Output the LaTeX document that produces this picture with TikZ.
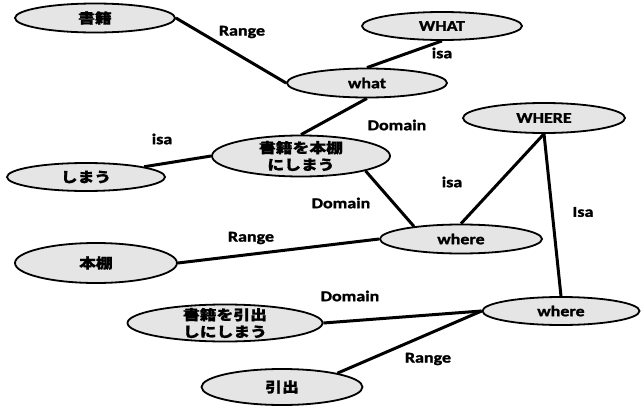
\documentclass[tikz,border=0pt]{standalone}
\usepackage{fontspec}
\setmainfont{Carlito}[FakeStretch=1.2, BoldFeatures={FakeBold=1.5}]
\newfontfamily\jpfont{Noto Sans CJK JP}[FakeStretch=1.2, BoldFeatures={FakeBold=1}]
\usetikzlibrary{shapes.geometric,backgrounds}

\begin{document}
\begin{tikzpicture}[x=1pt, y=-1pt,
    concept/.style={ellipse, draw, line width=1.8pt, fill=gray!20, inner sep=0pt,
        minimum width=160pt, minimum height=29pt, align=center,
        font=\fontsize{15}{17}\selectfont\bfseries},
    jp/.style={font=\fontsize{14}{17}\selectfont\jpfont\bfseries},
    rel/.style={font=\fontsize{15}{17}\selectfont\bfseries},
    link/.style={line width=3pt}]
    \useasboundingbox (0,0) rectangle (641,407);
    \path
        node (shoseki) at (95,18)  [concept, jp] {書籍}
        node (WHAT)    at (442,26) [concept, minimum height=28pt] {WHAT}
        node (what)    at (367,83) [concept] {what}
        node (WHERE)   at (544,118) [concept, minimum width=162pt, minimum height=30pt] {WHERE}
        node (shohon)  at (301,156) [concept, jp, minimum width=178pt, minimum height=41pt, inner ysep=-6pt] {書籍を本棚\\にしまう}
        node (shimau)  at (86,177) [concept, jp, minimum width=158pt, minimum height=28pt] {しまう}
        node (where1)  at (461,239) [concept, minimum width=162pt] {where}
        node (hondana) at (96,263) [concept, jp, minimum width=162pt, minimum height=40pt] {本棚}
        node (where2)  at (561,311) [concept, minimum width=157pt, minimum height=28pt] {where}
        node (shohiki) at (225,323) [concept, jp, minimum width=195pt, minimum height=37pt, inner ysep=-6pt] {書籍を引出\\しにしまう}
        node (hikidashi) at (282,387) [concept, jp, minimum width=161pt, minimum height=36pt] {引出};
    \begin{scope}[on background layer]
        \draw[link] (shoseki.east) -- (what.west);
        \draw[link] (WHAT.south) -- (what.north);
        \draw[link] (what.south) -- (shohon.north);
        \draw[link] (shimau.10) -- (shohon.west);
        \draw[link] (shohon.-13) -- (where1.165);
        \draw[link] (WHERE.south) -- (where1.north);
        \draw[link] (WHERE.south) -- (where2.north);
        \draw[link] (hondana.east) -- (where1.west);
        \draw[link] (shohiki.east) -- (where2.west);
        \draw[link] (hikidashi.14) -- (where2.west);
    \end{scope}
    \path
        node (range1)  at (242,32)  [rel] {Range}
        node (isa1)    at (442,53)  [rel] {isa}
        node (isa2)    at (162,139) [rel] {isa}
        node (domain1) at (397,125) [rel] {Domain}
        node (isa3)    at (452,182) [rel] {isa}
        node (isa4)    at (583,212) [rel] {Isa}
        node (domain2) at (341,203) [rel] {Domain}
        node (range2)  at (251,238) [rel] {Range}
        node (domain3) at (350,296) [rel] {Domain}
        node (range3)  at (428,359) [rel] {Range};
\end{tikzpicture}
\end{document}
